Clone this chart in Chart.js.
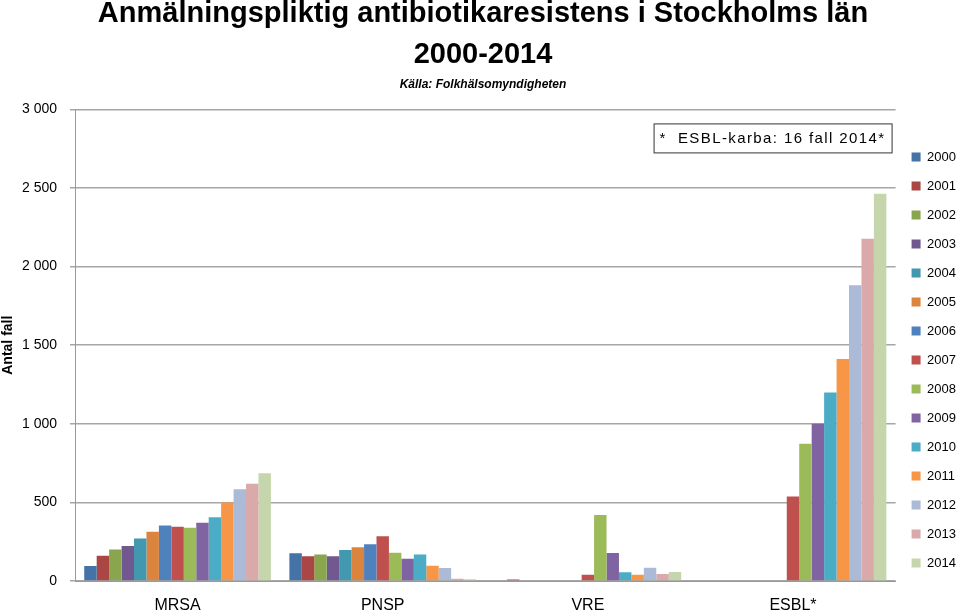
<!DOCTYPE html>
<html>
<head>
  <meta charset="UTF-8">
  <title>Anmälningspliktig antibiotikaresistens i Stockholms län</title>
  <script src="https://cdn.jsdelivr.net/npm/chart.js"></script>
  <style>
    html, body {
      margin: 0;
      padding: 0;
      background: #fff;
    }
    #wrap {
      width: 960px;
      height: 616px;
      position: relative;
    }
  </style>
</head>
<body>
  <div id="wrap"><canvas id="chart"></canvas></div>

  <script>
    // Categories and years
    const categories = ['MRSA', 'PNSP', 'VRE', 'ESBL*'];
    const years = ['2000', '2001', '2002', '2003', '2004', '2005', '2006', '2007',
                   '2008', '2009', '2010', '2011', '2012', '2013', '2014'];

    // Cases per year (2000..2014), one array per category
    const mrsa = [95, 160, 200, 222, 270, 313, 353, 345, 339, 371, 406, 500, 583, 619, 685];
    const pnsp = [176, 157, 168, 157, 197, 215, 234, 285, 180, 142, 168, 97, 83, 15, 11];
    const vre  = [4, 9, 5, 5, 0, 0, 0, 40, 420, 178, 55, 40, 85, 45, 57];
    const esbl = [0, 0, 0, 0, 0, 0, 0, 537, 873, 1000, 1199, 1412, 1881, 2178, 2463];

    const yAxisTicks = [0, 500, 1000, 1500, 2000, 2500, 3000];

    const yearColors = ['#4572A7', '#AA4643', '#89A54E', '#71588F', '#4198AF', '#DB843D',
                        '#4F81BD', '#C0504D', '#9BBB59', '#8064A2', '#4BACC6', '#F79646',
                        '#AABAD7', '#D9AAA9', '#C6D6AC'];

    const font = "'Liberation Sans', Arial, sans-serif";

    const datasets = years.map((y, i) => ({
      label: y,
      data: [mrsa[i], pnsp[i], vre[i], esbl[i]],
      backgroundColor: yearColors[i],
      borderWidth: 0,
      categoryPercentage: 0.91,
      barPercentage: 1.0
    }));

    // Boxed note in the upper right of the plot
    const noteBox = {
      id: 'noteBox',
      afterDraw(chart) {
        const { ctx, chartArea } = chart;
        const w = 238, h = 29;
        const x = chartArea.right - w - 4;
        const y = chartArea.top + 14;
        ctx.save();
        ctx.fillStyle = '#fff';
        ctx.fillRect(x, y, w, h);
        ctx.strokeStyle = '#333';
        ctx.lineWidth = 1;
        ctx.strokeRect(x + 0.5, y + 0.5, w, h);
        ctx.fillStyle = '#000';
        ctx.font = '15px ' + font;
        ctx.letterSpacing = '1.4px';
        ctx.textAlign = 'center';
        ctx.textBaseline = 'middle';
        ctx.fillText('*  ESBL-karba: 16 fall 2014*', x + w / 2, y + h / 2 + 1);
        ctx.restore();
      }
    };

    const ctx = document.getElementById('chart').getContext('2d');
    new Chart(ctx, {
      type: 'bar',
      data: {
        labels: categories,
        datasets: datasets
      },
      plugins: [noteBox],
      options: {
        responsive: true,
        maintainAspectRatio: false,
        animation: false,
        layout: {
          padding: { top: -7, left: 0, right: -6, bottom: 0 }
        },
        plugins: {
          title: {
            display: true,
            text: ['Anmälningspliktig antibiotikaresistens i Stockholms län', '2000-2014'],
            color: '#000',
            font: { family: font, size: 29, weight: 'bold', lineHeight: 1.414 },
            padding: { top: 0, bottom: 0 }
          },
          subtitle: {
            display: true,
            text: 'Källa: Folkhälsomyndigheten',
            color: '#000',
            font: { family: font, size: 12, weight: 'bold', style: 'italic' },
            padding: { top: 2, bottom: 18 }
          },
          legend: {
            position: 'right',
            // empty title only pushes the items down to where the original has them
            title: {
              display: true,
              text: '',
              font: { size: 10 },
              padding: { top: 99, bottom: 0 }
            },
            labels: {
              color: '#000',
              font: { family: font, size: 13 },
              boxWidth: 9,
              boxHeight: 9,
              padding: 16
            }
          },
          tooltip: { enabled: false }
        },
        scales: {
          x: {
            afterFit: scale => { scale.height = 35; },
            grid: { display: false, drawTicks: false },
            border: { display: true, color: '#999' },
            ticks: {
              color: '#000',
              font: { family: font, size: 16 },
              padding: 15
            }
          },
          y: {
            min: 0,
            max: 3000,
            afterFit: scale => { scale.width = 75; },
            afterBuildTicks: scale => {
              scale.ticks = yAxisTicks.map(v => ({ value: v }));
            },
            grid: { color: '#A6A6A6', lineWidth: 1.5, tickLength: 5, drawTicks: true },
            border: { display: true, color: '#999' },
            ticks: {
              color: '#000',
              font: { family: font, size: 14 },
              padding: 13,
              callback: v => String(v).replace(/\B(?=(\d{3})+(?!\d))/g, ' ')
            },
            title: {
              display: true,
              text: 'Antal fall',
              color: '#000',
              font: { family: font, size: 14, weight: 'bold' },
              padding: { top: 0, bottom: 2 }
            }
          }
        }
      }
    });
  </script>
</body>
</html>
